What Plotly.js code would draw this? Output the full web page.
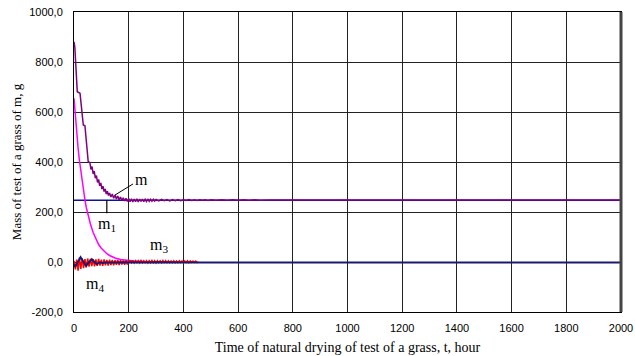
<!DOCTYPE html>
<html><head><meta charset="utf-8">
<script src="https://cdn.plot.ly/plotly-3.0.1.min.js"></script>
<style>html,body{margin:0;padding:0;background:#fff;}#chart{width:635px;height:356px;}</style>
</head><body><div id="chart"></div>
<script>
// ---- data ----
var mT = [0,3,12,22,34,40,52,58,62,66,70,74,78,82,86,90,94,98,102,106,110,114,118,122,126,130,135,140,145,150,155,160,165,170,175,180,185,190,195,200,205,210,215,220,225,230,235,240,245,250,255,260,265,270,275,280,285,290,295,300,310,320,330,340,350,360,370,380,390,400,410,420,430,440,450,460,470,480,490,500,520,540,560,580,600,620,640,660,680,700,720,2000];
var mV = [881,860,681,675,548,545,401,398,370,382,352,364,335,346,318,330,305,316,292,303,282,292,272,283,266,276,260,272,255,268,252,264,249,260,246,257,244,255,242,254,241,253,240,252,241,253,240,252,242,252,241,251,242,252,243,251,243,251,244,250,244,251,245,250,244,250,245,250,245,249,246,250,246,249,246,249,247,249,246,249,247,249,247,249,247,249,247,249,247,249,248,248];

var m1T = [0,2000];
var m1V = [247,247];

var m3T = [0,5,10,15,20,25,30,35,40,45,50,60,70,80,90,100,110,120,130,140,150,170,190,220,260,300,400,450];
var m3V = [655,580,510,455,405,360,320,280,248,218,195,152,118,90,70,55,42,33,26,20,16,10,7,4,2,1,0,0];

var m4T = [0,5,10,15,20,25,30,35,40,45,50,55,60,65,70,75,80,85,90,95,100,105,110,115,120,125,130,135,140,145,150,155,160,165,170,175,180,185,190,195,200,205,210,215,220,225,230,235,240,245,250,255,260,265,270,275,280,285,290,295,300,305,310,315,320,325,330,335,340,345,350,355,360,365,370,375,380,385,390,395,400,405,410,415,420,425,430,435,440,445,450,455];
var m4V = [5,-30,10,-35,18,-28,15,-25,12,-22,14,-18,12,-16,11,-17,10,-15,12,-14,9,-15,10,-13,8,-14,9,-12,8,-13,7,-11,8,-12,7,-10,6,-11,7,-10,6,5,-3,6,-4,5,-3,5,-4,6,-3,5,-3,5,-4,5,-3,6,-3,5,-4,5,-3,5,-3,6,-4,5,-3,5,-3,4,-3,5,-3,4,-3,5,-2,4,-3,4,-2,5,-3,4,-2,4,-2,4,-2,0];

var m2T = [0,4,14,24,34,44,54,65,74,83,95,105,115,130,145,160,180,200,230,260,300,400,2000];
var m2V = [-10,-19,0,19,2,-15,-2,11,1,-9,-1,-4,-2,-3,-1,-2,-1,-2,-1,-2,-1,-2,-2];

var xTickVals = [0,200,400,600,800,1000,1200,1400,1600,1800,2000];
var xTickText = ["0","200","400","600","800","1000","1200","1400","1600","1800","2000"];
var yTickVals = [-200,0,200,400,600,800,1000];
var yTickText = ["-200,0","0,0","200,0","400,0","600,0","800,0","1000,0"];

var xTitle = "Time of natural drying of test of a grass, t, hour";
var yTitle = "Mass of test of a grass of m, g";

// ---- traces ----
var traces = [
  {x:m1T, y:m1V, mode:'lines', line:{color:'#1010a0', width:1.5}, name:'m1'},
  {x:m3T, y:m3V, mode:'lines', line:{color:'#ff00ff', width:1.5}, name:'m3'},
  {x:m4T, y:m4V, mode:'lines', line:{color:'#ff0000', width:1.5}, name:'m4'},
  {x:m2T, y:m2V, mode:'lines', line:{color:'#1a1a6e', width:2}, name:'m2'},
  {x:mT, y:mV, mode:'lines', line:{color:'#800080', width:1.5}, name:'m'}
];

var serif = 'Liberation Serif, Times New Roman, serif';
var sans = 'Liberation Sans, Arial, sans-serif';

var layout = {
  width:635, height:356,
  margin:{l:74, r:14, t:12, b:44},
  paper_bgcolor:'#fff', plot_bgcolor:'#fff',
  showlegend:false,
  xaxis:{range:[0,2000], tickvals:xTickVals, ticktext:xTickText, showgrid:true, gridcolor:'#222', gridwidth:1,
         zeroline:false, showline:true, linecolor:'#000', linewidth:1, mirror:true, ticks:'', ticklabelstandoff:6,
         tickfont:{family:sans, size:11, color:'#000'},
         title:{text:xTitle, font:{family:serif, size:14, color:'#000'}, standoff:8}},
  yaxis:{range:[-200,1000], tickvals:yTickVals, ticktext:yTickText, showgrid:true, gridcolor:'#222', gridwidth:1,
         zeroline:false, showline:true, linecolor:'#000', linewidth:1, mirror:true, ticks:'', ticklabelstandoff:8,
         tickfont:{family:sans, size:11, color:'#000'},
         title:{text:yTitle, font:{family:serif, size:13, color:'#000'}, standoff:4}},
  shapes:[{type:'line', xref:'paper', yref:'paper', x0:1, x1:1, y0:0, y1:1, line:{color:'#444', width:3}}],
  annotations:[
    {x:150, y:268, xref:'x', yref:'y', text:'m', showarrow:true, arrowhead:0, arrowwidth:1, arrowcolor:'#000', ax:26, ay:-16, font:{family:serif, size:16, color:'#000'}},
    {x:120, y:247, xref:'x', yref:'y', text:'m<sub>1</sub>', showarrow:true, arrowhead:0, arrowwidth:1.2, arrowcolor:'#000', ax:0, ay:24, font:{family:serif, size:16, color:'#000'}},
    {x:311, y:68, xref:'x', yref:'y', text:'m<sub>3</sub>', showarrow:false, font:{family:serif, size:16, color:'#000'}},
    {x:77, y:-88, xref:'x', yref:'y', text:'m<sub>4</sub>', showarrow:false, font:{family:serif, size:16, color:'#000'}}
  ]
};

Plotly.newPlot('chart', traces, layout, {staticPlot:true, displayModeBar:false});
</script>
</body></html>
